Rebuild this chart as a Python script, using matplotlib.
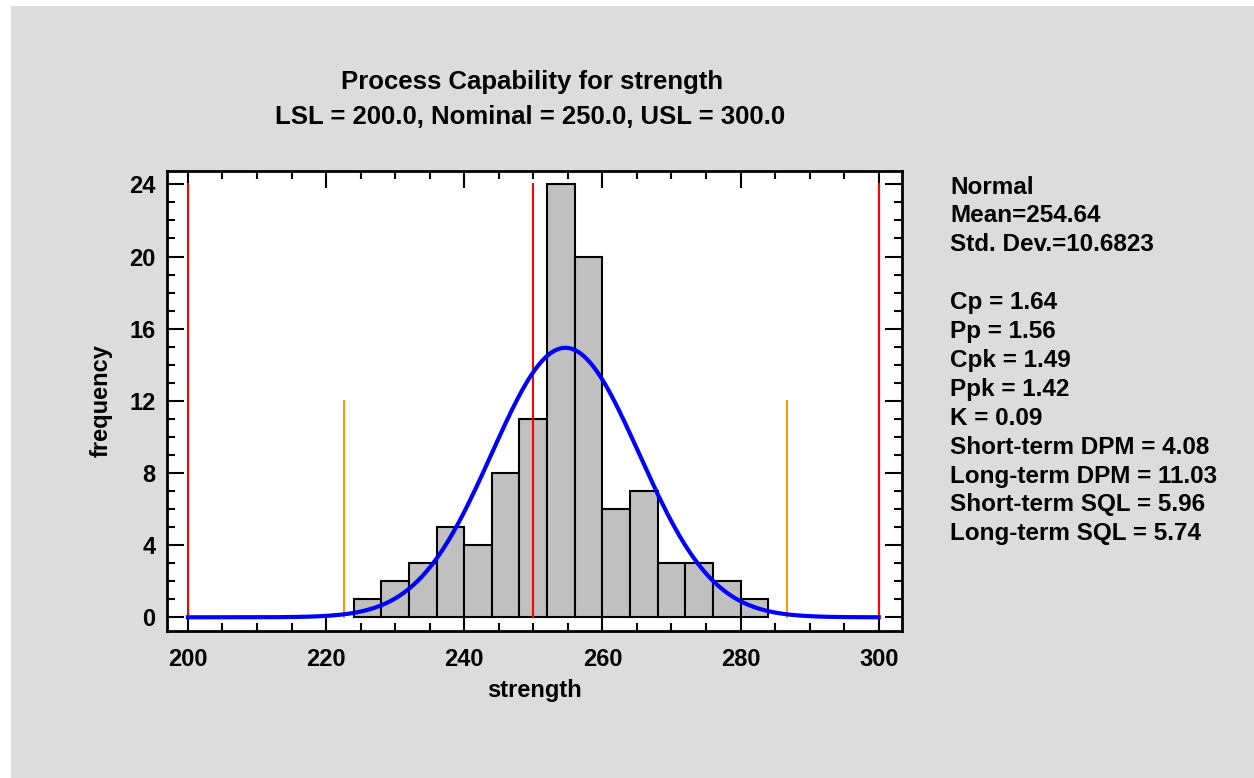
import numpy as np
import matplotlib
matplotlib.use('Agg')
import matplotlib.pyplot as plt
from matplotlib.ticker import MultipleLocator

# histogram data (bin width 4)
bin_edges = [224, 228, 232, 236, 240, 244, 248, 252, 256, 260, 264, 268, 272, 276, 280, 284]
counts = [1, 2, 3, 5, 4, 8, 11, 24, 20, 6, 7, 3, 3, 2, 1]

# spec limits and fitted normal
lsl, nominal, usl = 200.0, 250.0, 300.0
mean = 254.64
std_dev = 10.6823
n_obs = 100

stats_lines = [
    "Normal",
    "Mean=254.64",
    "Std. Dev.=10.6823",
    "",
    "Cp = 1.64",
    "Pp = 1.56",
    "Cpk = 1.49",
    "Ppk = 1.42",
    "K = 0.09",
    "Short-term DPM = 4.08",
    "Long-term DPM = 11.03",
    "Short-term SQL = 5.96",
    "Long-term SQL = 5.74",
]

plt.rcParams['font.family'] = ['Liberation Sans', 'DejaVu Sans']
plt.rcParams['font.weight'] = 'bold'

W, H = 1254, 778
fig = plt.figure(figsize=(W / 100, H / 100), dpi=100, facecolor='white')

# gray panel behind everything
bg = fig.add_axes([11 / W, 0, 1 - 11 / W, 1 - 6 / H], zorder=-1)
bg.set_facecolor('#dcdcdc')
bg.set_xticks([])
bg.set_yticks([])
for s in bg.spines.values():
    s.set_visible(False)

ax = fig.add_axes([166.5 / W, 1 - 631 / H, (901.5 - 166.5) / W, (631 - 171) / H], zorder=1)
ax.set_facecolor('white')

# bars
widths = np.diff(bin_edges)
ax.bar(bin_edges[:-1], counts, width=widths, align='edge', color='#c0c0c0',
       edgecolor='black', linewidth=1.5, zorder=2)

# spec lines
for v in (lsl, nominal, usl):
    ax.plot([v, v], [0, 24], color='#ff0000', linewidth=1.5, zorder=3)
for v in (mean - 3 * std_dev, mean + 3 * std_dev):
    ax.plot([v, v], [0, 12], color='#ff9900', linewidth=1.5, zorder=3)

# fitted normal curve scaled to counts
xs = np.linspace(lsl, usl, 400)
bw = bin_edges[1] - bin_edges[0]
ys = n_obs * bw * np.exp(-0.5 * ((xs - mean) / std_dev) ** 2) / (std_dev * np.sqrt(2 * np.pi))
ax.plot(xs, ys, color='#0000ff', linewidth=3, zorder=4)

ax.set_xlim(196.9, 303.3)
ax.set_ylim(-0.76, 24.74)
ax.xaxis.set_major_locator(MultipleLocator(20))
ax.xaxis.set_minor_locator(MultipleLocator(5))
ax.yaxis.set_major_locator(MultipleLocator(4))
ax.yaxis.set_minor_locator(MultipleLocator(1))
ax.tick_params(which='both', direction='in', top=True, right=True, width=1.5,
               labelsize=17, pad=8)
ax.tick_params(axis='x', which='major', pad=12)
ax.tick_params(which='major', length=12)
ax.tick_params(which='minor', length=6)
for lab in ax.get_xticklabels() + ax.get_yticklabels():
    lab.set_fontweight('bold')
for s in ax.spines.values():
    s.set_linewidth(2)

ax.set_xlabel('strength', fontsize=17, fontweight='bold', labelpad=6)
ax.set_ylabel('frequency', fontsize=17, fontweight='bold', labelpad=12)

fig.text(532 / W, 1 - 82 / H, 'Process Capability for strength', ha='center', va='center',
         fontsize=18.5, fontweight='bold')
fig.text(530 / W, 1 - 117 / H, 'LSL = 200.0, Nominal = 250.0, USL = 300.0', ha='center',
         va='center', fontsize=18.5, fontweight='bold')

# stats box
y0 = 187
for i, line in enumerate(stats_lines):
    fig.text(950 / W, 1 - (y0 + i * 28.9) / H, line, ha='left', va='center',
             fontsize=17.5, fontweight='bold')

fig.savefig('out.png', dpi=100, facecolor='white')
